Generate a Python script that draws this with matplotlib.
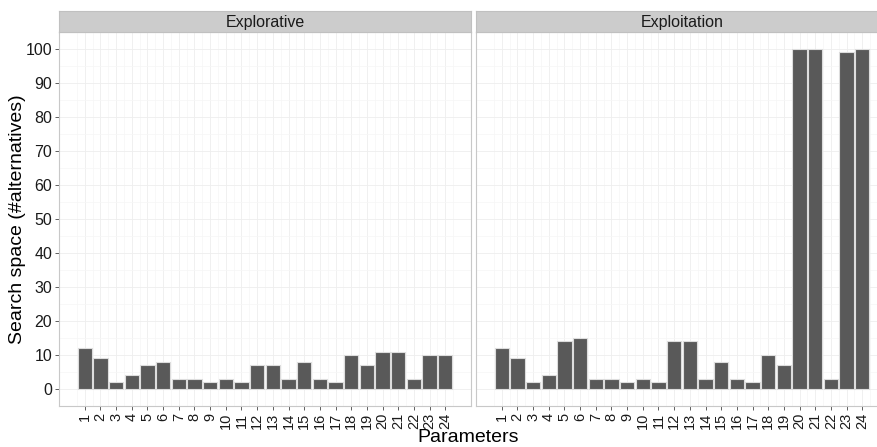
import matplotlib
matplotlib.use("Agg")
import matplotlib.pyplot as plt
from matplotlib.ticker import FixedLocator

plt.rcParams['font.family'] = ['Liberation Sans', 'DejaVu Sans']

params = list(range(1, 25))
panels = ["Explorative", "Exploitation"]
explorative = [12, 9, 2, 4, 7, 8, 3, 3, 2, 3, 2, 7, 7, 3, 8, 3, 2, 10, 7, 11, 11, 3, 10, 10]
exploitation = [12, 9, 2, 4, 14, 15, 3, 3, 2, 3, 2, 14, 14, 3, 8, 3, 2, 10, 7, 100, 100, 3, 99, 100]
series = [explorative, exploitation]
yticks = list(range(0, 101, 10))

W, H = 877, 447
fig = plt.figure(figsize=(W / 100, H / 100), dpi=100)

panel_px = [(59, 471), (476, 888)]
top_px, bot_px = 32, 406
strip_top = 11

for i, (name, vals) in enumerate(zip(panels, series)):
    x0, x1 = panel_px[i]
    ax = fig.add_axes([x0 / W, 1 - bot_px / H, (x1 - x0) / W, (bot_px - top_px) / H])
    ax.set_facecolor('white')
    ax.bar(params, vals, width=0.9, color='#595959', edgecolor='#DDDDDD', linewidth=0.8, zorder=3)
    ax.set_xlim(-0.645, 25.645)
    ax.set_ylim(-5, 105)
    ax.xaxis.set_minor_locator(FixedLocator([p + 0.5 for p in range(0, 25)]))
    ax.yaxis.set_minor_locator(FixedLocator([y + 5 for y in range(-10, 101, 10)]))
    ax.grid(which='major', color='#EEEEEE', linewidth=0.6, zorder=0)
    ax.grid(which='minor', color='#F6F6F6', linewidth=0.5, zorder=0)
    ax.set_axisbelow(True)
    ax.set_xticks(params)
    ax.set_xticklabels([str(p) for p in params], rotation=90, fontsize=10.5, color='#1a1a1a')
    ax.tick_params(axis='both', which='major', length=3, width=0.6, color='#444444', pad=2)
    ax.tick_params(axis='both', which='minor', length=0)
    ax.set_yticks(yticks)
    if i == 0:
        ax.set_yticklabels([str(y) for y in yticks], fontsize=11.5, color='#1a1a1a')
    else:
        ax.set_yticklabels([])
        ax.tick_params(axis='y', which='major', length=0)
    for s in ax.spines.values():
        s.set_color('#C8C8C8')
        s.set_linewidth(0.8)
    # strip
    sax = fig.add_axes([x0 / W, 1 - top_px / H, (x1 - x0) / W, (top_px - strip_top) / H])
    sax.set_facecolor('#CCCCCC')
    sax.set_xticks([])
    sax.set_yticks([])
    for s in sax.spines.values():
        s.set_color('#C0C0C0')
        s.set_linewidth(0.8)
    sax.text(0.5, 0.45, name, transform=sax.transAxes, ha='center', va='center',
             fontsize=11.5, color='#1a1a1a')

fig.text(18 / W, 1 - 219 / H, "Search space (#alternatives)", rotation=90,
         ha='center', va='center', fontsize=14, color='black')
fig.text(468 / W, 1 - 438 / H, "Parameters", ha='center', va='center',
         fontsize=14, color='black')

fig.savefig("out.png", dpi=100)
